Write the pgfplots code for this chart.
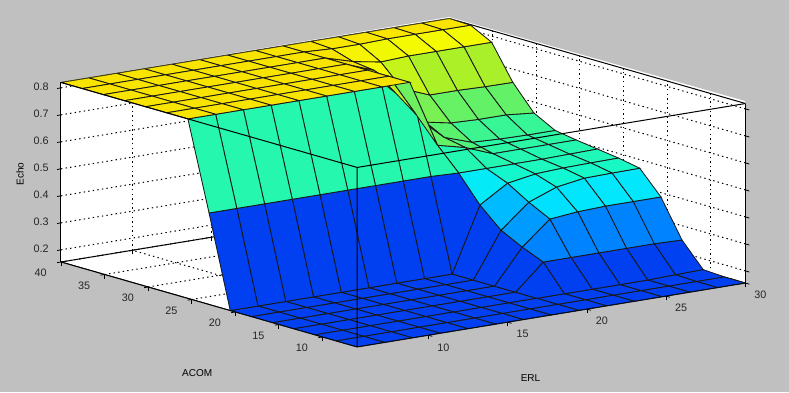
\documentclass[border=0pt]{standalone}
\usepackage{pgfplots}
\pgfplotsset{compat=1.18}
\usepackage{fontspec}
\setmainfont{Liberation Sans}
\pgfplotsset{colormap={fis}{rgb255=(0,60,240) rgb255=(0,92,247) rgb255=(0,123,254) rgb255=(0,157,255) rgb255=(0,193,255) rgb255=(0,228,255) rgb255=(9,243,233) rgb255=(22,248,199) rgb255=(47,247,160) rgb255=(86,241,115) rgb255=(126,240,79) rgb255=(166,240,44) rgb255=(193,243,28) rgb255=(219,247,14) rgb255=(245,250,0) rgb255=(250,225,0)}}
\begin{document}
\begin{tikzpicture}[x=1pt,y=1pt]
\path[use as bounding box,fill={rgb,255:red,192;green,192;blue,192}] (0,0) rectangle (789,392);
\fill[white] (61,310) -- (449,375) -- (745,291) -- (745,109) -- (357,45) -- (61,130) -- cycle;
\begin{axis}[
  at={(61pt,45pt)},anchor=south west,
  x={(15.85pt,2.61pt)},y={(-8.71pt,2.5pt)},z={(0pt,270pt)},
  xmin=5.5,xmax=30,ymin=6,ymax=40,zmin=0.155,zmax=0.82,
  xtick={10,15,20,25,30},ytick={10,15,20,25,30,35,40},ztick={0.2,0.3,0.4,0.5,0.6,0.7,0.8},
  zticklabels={0.2,0.3,0.4,0.5,0.6,0.7,0.8},
  grid=major,grid style={dash pattern=on 1.4pt off 3.2pt,black,line width=1pt},
  tick align=outside,major tick length=4pt,
  tick style={black,line width=0.8pt},
  xtick pos=left,ytick pos=left,ztick pos=left,
  axis line style={black,line width=1pt},
  tick label style={font=\fontsize{10.8}{12}\selectfont,black!85},
  xticklabel style={xshift=5pt,yshift=-3pt},
  yticklabel style={xshift=-9.5pt,yshift=-2.5pt},
  zticklabel style={xshift=-5pt,yshift=-1pt},
  label style={font=\fontsize{8.5}{10}\selectfont,black!85},
  /pgf/number format/assume math mode=true,
  xlabel={ERL},ylabel={ACOM},zlabel={Echo},
  every axis x label/.style={at={(axis description cs:0.686,-0.094)},anchor=center},
  every axis y label/.style={at={(axis description cs:0.199,-0.079)},anchor=center},
  every axis z label/.style={at={(axis description cs:-0.06,0.526)},anchor=center,rotate=90},
  colormap name=fis,
  point meta min=0.15,point meta max=0.825,
]
\addplot3[surf,shader=flat corner,draw=black!90,line width=0.85pt,z buffer=sort,mesh/rows=15,mesh/cols=15,
  point meta={abs(x-19.5)<0.1 && abs(y-25.43)<0.1 ? 0.58 : (abs(x-19.5)<0.1 && abs(y-27.86)<0.1 ? 0.68 : z)}] table[row sep=\\] {
x y z\\
5.5 6 .155\\ 7.25 6 .155\\ 9 6 .155\\ 10.75 6 .155\\ 12.5 6 .155\\ 14.25 6 .155\\ 16 6 .155\\ 17.75 6 .155\\ 19.5 6 .155\\ 21.25 6 .155\\ 23 6 .155\\ 24.75 6 .155\\ 26.5 6 .155\\ 28.25 6 .155\\ 30 6 .155\\
5.5 8.43 .155\\ 7.25 8.43 .155\\ 9 8.43 .155\\ 10.75 8.43 .155\\ 12.5 8.43 .155\\ 14.25 8.43 .155\\ 16 8.43 .155\\ 17.75 8.43 .155\\ 19.5 8.43 .155\\ 21.25 8.43 .155\\ 23 8.43 .155\\ 24.75 8.43 .155\\ 26.5 8.43 .155\\ 28.25 8.43 .155\\ 30 8.43 .155\\
5.5 10.86 .155\\ 7.25 10.86 .155\\ 9 10.86 .155\\ 10.75 10.86 .155\\ 12.5 10.86 .155\\ 14.25 10.86 .155\\ 16 10.86 .155\\ 17.75 10.86 .155\\ 19.5 10.86 .155\\ 21.25 10.86 .155\\ 23 10.86 .155\\ 24.75 10.86 .155\\ 26.5 10.86 .155\\ 28.25 10.86 .158\\ 30 10.86 .16\\
5.5 13.29 .155\\ 7.25 13.29 .155\\ 9 13.29 .155\\ 10.75 13.29 .155\\ 12.5 13.29 .155\\ 14.25 13.29 .155\\ 16 13.29 .155\\ 17.75 13.29 .155\\ 19.5 13.29 .155\\ 21.25 13.29 .25\\ 23 13.29 .25\\ 24.75 13.29 .25\\ 26.5 13.29 .25\\ 28.25 13.29 .25\\ 30 13.29 .247\\
5.5 15.71 .155\\ 7.25 15.71 .155\\ 9 15.71 .155\\ 10.75 15.71 .155\\ 12.5 15.71 .155\\ 14.25 15.71 .155\\ 16 15.71 .155\\ 17.75 15.71 .155\\ 19.5 15.71 .155\\ 21.25 15.71 .283\\ 23 15.71 .37\\ 24.75 15.71 .38\\ 26.5 15.71 .384\\ 28.25 15.71 .384\\ 30 15.71 .384\\
5.5 18.14 .155\\ 7.25 18.14 .155\\ 9 18.14 .155\\ 10.75 18.14 .155\\ 12.5 18.14 .155\\ 14.25 18.14 .155\\ 16 18.14 .155\\ 17.75 18.14 .155\\ 19.5 18.14 .155\\ 21.25 18.14 .323\\ 23 18.14 .41\\ 24.75 18.14 .449\\ 26.5 18.14 .465\\ 28.25 18.14 .467\\ 30 18.14 .468\\
5.5 20.57 .155\\ 7.25 20.57 .155\\ 9 20.57 .155\\ 10.75 20.57 .155\\ 12.5 20.57 .155\\ 14.25 20.57 .155\\ 16 20.57 .155\\ 17.75 20.57 .155\\ 19.5 20.57 .155\\ 21.25 20.57 .394\\ 23 20.57 .458\\ 24.75 20.57 .475\\ 26.5 20.57 .48\\ 28.25 20.57 .482\\ 30 20.57 .483\\
5.5 23 .494\\ 7.25 23 .494\\ 9 23 .494\\ 10.75 23 .494\\ 12.5 23 .494\\ 14.25 23 .494\\ 16 23 .494\\ 17.75 23 .494\\ 19.5 23 .494\\ 21.25 23 .49\\ 23 23 .49\\ 24.75 23 .49\\ 26.5 23 .49\\ 28.25 23 .492\\ 30 23 .494\\
5.5 25.43 .82\\ 7.25 25.43 .82\\ 9 25.43 .82\\ 10.75 25.43 .82\\ 12.5 25.43 .82\\ 14.25 25.43 .82\\ 16 25.43 .82\\ 17.75 25.43 .82\\ 19.5 25.43 .82\\ 21.25 25.43 .57\\ 23 25.43 .545\\ 24.75 25.43 .505\\ 26.5 25.43 .505\\ 28.25 25.43 .505\\ 30 25.43 .505\\
5.5 27.86 .82\\ 7.25 27.86 .82\\ 9 27.86 .82\\ 10.75 27.86 .82\\ 12.5 27.86 .82\\ 14.25 27.86 .82\\ 16 27.86 .82\\ 17.75 27.86 .82\\ 19.5 27.86 .82\\ 21.25 27.86 .66\\ 23 27.86 .56\\ 24.75 27.86 .525\\ 26.5 27.86 .52\\ 28.25 27.86 .518\\ 30 27.86 .518\\
5.5 30.29 .82\\ 7.25 30.29 .82\\ 9 30.29 .82\\ 10.75 30.29 .82\\ 12.5 30.29 .82\\ 14.25 30.29 .82\\ 16 30.29 .82\\ 17.75 30.29 .82\\ 19.5 30.29 .82\\ 21.25 30.29 .72\\ 23 30.29 .594\\ 24.75 30.29 .574\\ 26.5 30.29 .57\\ 28.25 30.29 .57\\ 30 30.29 .56\\
5.5 32.71 .82\\ 7.25 32.71 .82\\ 9 32.71 .82\\ 10.75 32.71 .82\\ 12.5 32.71 .82\\ 14.25 32.71 .82\\ 16 32.71 .82\\ 17.75 32.71 .82\\ 19.5 32.71 .82\\ 21.25 32.71 .78\\ 23 32.71 .696\\ 24.75 32.71 .655\\ 26.5 32.71 .655\\ 28.25 32.71 .652\\ 30 32.71 .651\\
5.5 35.14 .82\\ 7.25 35.14 .82\\ 9 35.14 .82\\ 10.75 35.14 .82\\ 12.5 35.14 .82\\ 14.25 35.14 .82\\ 16 35.14 .82\\ 17.75 35.14 .82\\ 19.5 35.14 .82\\ 21.25 35.14 .79\\ 23 35.14 .772\\ 24.75 35.14 .777\\ 26.5 35.14 .777\\ 28.25 35.14 .777\\ 30 35.14 .777\\
5.5 37.57 .82\\ 7.25 37.57 .82\\ 9 37.57 .82\\ 10.75 37.57 .82\\ 12.5 37.57 .82\\ 14.25 37.57 .82\\ 16 37.57 .82\\ 17.75 37.57 .82\\ 19.5 37.57 .82\\ 21.25 37.57 .815\\ 23 37.57 .815\\ 24.75 37.57 .818\\ 26.5 37.57 .818\\ 28.25 37.57 .818\\ 30 37.57 .818\\
5.5 40 .82\\ 7.25 40 .82\\ 9 40 .82\\ 10.75 40 .82\\ 12.5 40 .82\\ 14.25 40 .82\\ 16 40 .82\\ 17.75 40 .82\\ 19.5 40 .82\\ 21.25 40 .82\\ 23 40 .82\\ 24.75 40 .82\\ 26.5 40 .82\\ 28.25 40 .82\\ 30 40 .82\\
};
\draw[black,line width=1pt] (axis cs:5.5,40,0.82)--(axis cs:5.5,6,0.82)--(axis cs:30,6,0.82) (axis cs:5.5,6,0.82)--(axis cs:5.5,6,0.155);
\draw[black,line width=1pt] (axis cs:5.5,40,0.155)--(axis cs:5.5,6,0.155)--(axis cs:30,6,0.155);
\draw[black,line width=1.3pt] (axis cs:30,6,0.155)--(axis cs:30,6,0.82);
\end{axis}
\end{tikzpicture}
\end{document}
